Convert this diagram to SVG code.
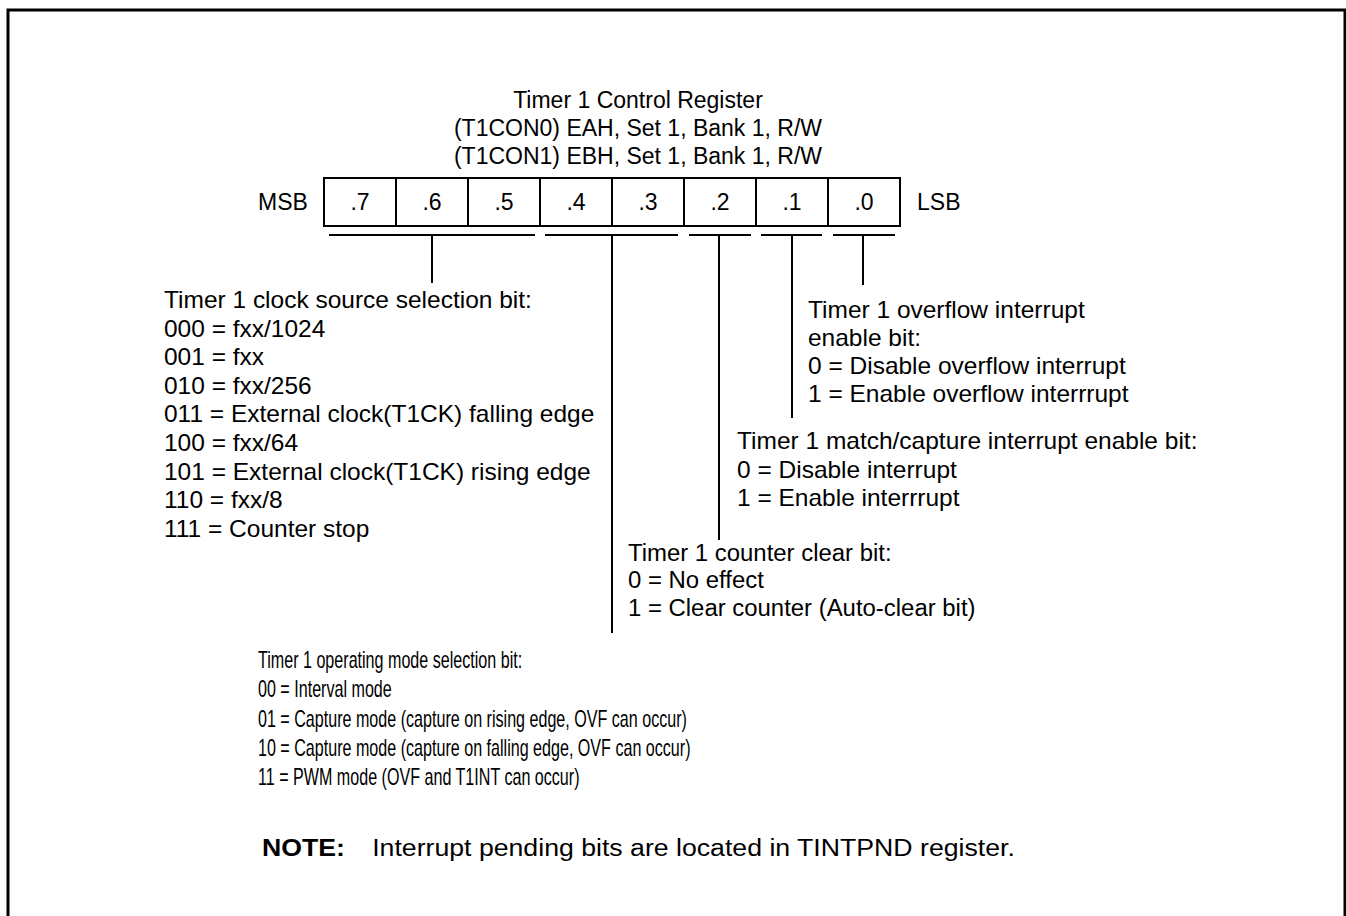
<svg xmlns="http://www.w3.org/2000/svg" width="1346" height="916" viewBox="0 0 1346 916">
<style>
text{font-family:"Liberation Sans",Arial,sans-serif;font-size:23px;fill:#000}
.b{font-weight:bold}
.c{text-anchor:middle}
.ln{stroke:#000;stroke-width:2;fill:none}
</style>
<rect x="0" y="0" width="1346" height="916" fill="#fff"/>
<rect x="8" y="10" width="1337" height="1000" fill="none" stroke="#000" stroke-width="3"/>
<g id="title">
<text class="c" x="638" y="108" font-size="27">Timer 1 Control Register</text>
<text class="c" x="638" y="136" font-size="27">(T1CON0) EAH, Set 1, Bank 1, R/W</text>
<text class="c" x="638" y="164" font-size="27">(T1CON1) EBH, Set 1, Bank 1, R/W</text>
</g>
<g id="register">
<rect class="ln" x="324" y="178" width="576" height="48"/>
<path class="ln" d="M396 178V226M468 178V226M540 178V226M612 178V226M684 178V226M756 178V226M828 178V226"/>
<text x="258" y="210" font-size="22">MSB</text>
<text x="917" y="210" font-size="22">LSB</text>
<text class="c" x="360" y="210" font-size="22">.7</text>
<text class="c" x="432" y="210" font-size="22">.6</text>
<text class="c" x="504" y="210" font-size="22">.5</text>
<text class="c" x="576" y="210" font-size="22">.4</text>
<text class="c" x="648" y="210" font-size="22">.3</text>
<text class="c" x="720" y="210" font-size="22">.2</text>
<text class="c" x="792" y="210" font-size="22">.1</text>
<text class="c" x="864" y="210" font-size="22">.0</text>
</g>
<g id="connectors">
<path class="ln" d="M329 235H535M545 235H678M689 235H751M761 235H822M833 235H895"/>
<path class="ln" d="M432 235V283M612 235V633M719 235V540M792 235V418M863 235V285"/>
</g>
<g id="clock-source" transform="translate(164 0) scale(1.065 1)">
<text x="0" y="308">Timer 1 clock source selection bit:</text>
<text x="0" y="337">000 = fxx/1024</text>
<text x="0" y="365">001 = fxx</text>
<text x="0" y="394">010 = fxx/256</text>
<text x="0" y="422">011 = External clock(T1CK) falling edge</text>
<text x="0" y="451">100 = fxx/64</text>
<text x="0" y="480">101 = External clock(T1CK) rising edge</text>
<text x="0" y="508">110 = fxx/8</text>
<text x="0" y="537">111 = Counter stop</text>
</g>
<g id="overflow" transform="translate(808 0) scale(1.065 1)">
<text x="0" y="318">Timer 1 overflow interrupt</text>
<text x="0" y="346">enable bit:</text>
<text x="0" y="374">0 = Disable overflow interrupt</text>
<text x="0" y="402">1 = Enable overflow interrrupt</text>
</g>
<g id="match-capture" transform="translate(737 0) scale(1.065 1)">
<text x="0" y="449">Timer 1 match/capture interrupt enable bit:</text>
<text x="0" y="478">0 = Disable interrupt</text>
<text x="0" y="506">1 = Enable interrrupt</text>
</g>
<g id="counter-clear" transform="translate(628 0) scale(1.04 1)">
<text x="0" y="561">Timer 1 counter clear bit:</text>
<text x="0" y="588">0 = No effect</text>
<text x="0" y="616">1 = Clear counter (Auto-clear bit)</text>
</g>
<g id="operating-mode" transform="translate(258 0) scale(0.7 1)">
<text x="0" y="668">Timer 1 operating mode selection bit:</text>
<text x="0" y="697">00 = Interval mode</text>
<text x="0" y="727">01 = Capture mode (capture on rising edge, OVF can occur)</text>
<text x="0" y="756">10 = Capture mode (capture on falling edge, OVF can occur)</text>
<text x="0" y="785">11 = PWM mode (OVF and T1INT can occur)</text>
</g>
<g id="note" transform="translate(262 0) scale(1.16 1)">
<text class="b" x="0" y="856">NOTE:</text>
<text x="95" y="856">Interrupt pending bits are located in TINTPND register.</text>
</g>
</svg>
